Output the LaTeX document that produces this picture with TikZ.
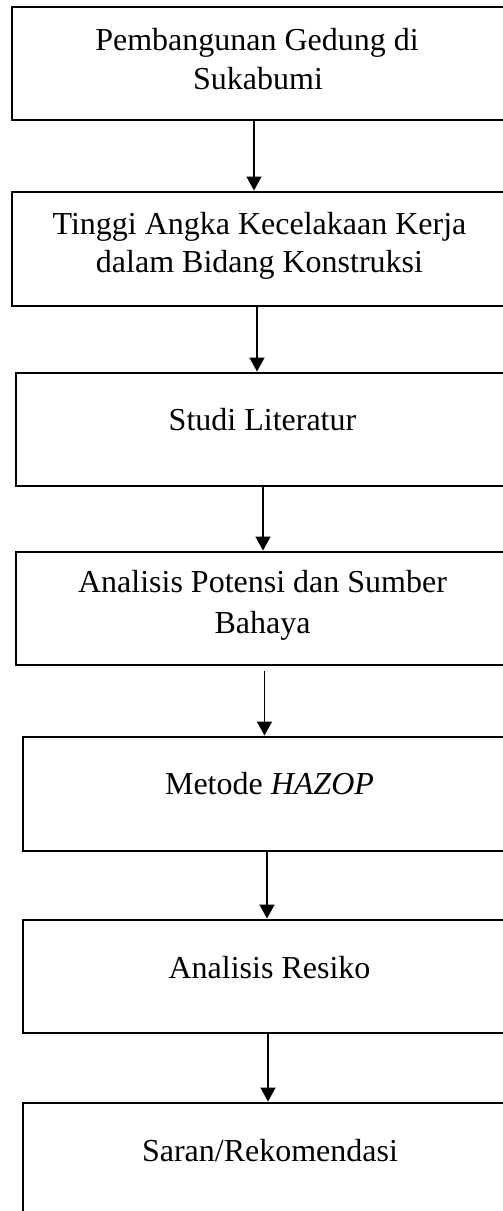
\documentclass[tikz,border=0pt]{standalone}
\usepackage{fontspec}
\setmainfont{Liberation Serif}
\usetikzlibrary{arrows.meta}
\begin{document}
\begin{tikzpicture}[x=1pt,y=-1pt,
  boxst/.style={draw=black, line width=2pt, rectangle, inner sep=0pt, outer sep=0pt, anchor=north west},
  txt/.style={anchor=base, inner sep=0pt, font=\fontsize{32}{38.5}\selectfont},
  arr/.style={draw=black, line width=1.6pt, -{Triangle[width=15pt,length=14pt]}, shorten >=1.5pt}]
\path[use as bounding box, clip] (0,0) rectangle (503,1211);
\fill[white] (0,0) rectangle (503,1211);
% boxes
\node[boxst, minimum width=508pt, minimum height=113pt] (b1) at (12,7) {};
\node[boxst, minimum width=508pt, minimum height=114pt] (b2) at (12,192) {};
\node[boxst, minimum width=504pt, minimum height=113pt] (b3) at (16,373) {};
\node[boxst, minimum width=504pt, minimum height=113pt] (b4) at (16,552) {};
\node[boxst, minimum width=497pt, minimum height=114pt] (b5) at (23,737) {};
\node[boxst, minimum width=497pt, minimum height=113pt] (b6) at (23,920) {};
\node[boxst, minimum width=497pt, minimum height=130pt] (b7) at (23,1103) {};
% texts
\node[txt] (t1a) at (257,50) {Pembangunan Gedung di};
\node[txt] (t1b) at (258,89) {Sukabumi};
\node[txt] (t2a) at (259.5,234) {Tinggi Angka Kecelakaan Kerja};
\node[txt] (t2b) at (259.5,272.5) {dalam Bidang Konstruksi};
\node[txt] (t3) at (262.5,430.5) {Studi Literatur};
\node[txt] (t4a) at (262.5,592.5) {Analisis Potensi dan Sumber};
\node[txt] (t4b) at (262.5,633) {Bahaya};
\node[txt] (t5) at (269.5,794) {Metode \textit{HAZOP}};
\node[txt] (t6) at (269.5,978) {Analisis Resiko};
\node[txt] (t7) at (270,1161.5) {Saran/Rekomendasi};
% arrows
\draw[arr] (b1.south -| 254,0) -- (b2.north -| 254,0);
\draw[arr] (b2.south -| 257,0) -- (b3.north -| 257,0);
\draw[arr] (b3.south -| 263,0) -- (b4.north -| 263,0);
\draw[arr, shorten <=6pt] (b4.south -| 264.5,0) -- (b5.north -| 264.5,0);
\draw[arr] (b5.south -| 267,0) -- (b6.north -| 267,0);
\draw[arr] (b6.south -| 268,0) -- (b7.north -| 268,0);
\end{tikzpicture}
\end{document}
